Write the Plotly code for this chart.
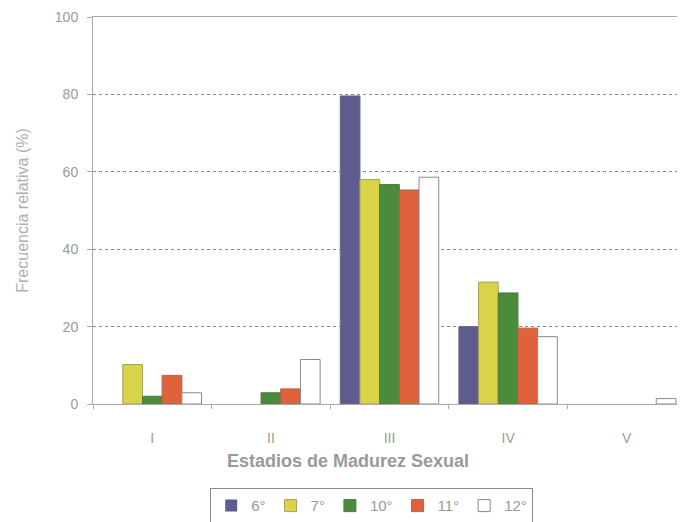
import plotly.graph_objects as go

categories = ["I", "II", "III", "IV", "V"]
series_names = ["6°", "7°", "10°", "11°", "12°"]
v6 = [0, 0, 79.6, 20.0, 0]
v7 = [10.2, 0, 58.0, 31.5, 0]
v10 = [2.0, 2.9, 56.7, 28.7, 0]
v11 = [7.4, 3.9, 55.3, 19.6, 0]
v12 = [2.9, 11.5, 58.6, 17.4, 1.4]
y_ticks = [0, 20, 40, 60, 80, 100]

series_values = [v6, v7, v10, v11, v12]
fills = ["#5e5c8e", "#d9d348", "#4a8c3c", "#e0623c", "#ffffff"]
lines = ["#6a6a80", "#a8a060", "#4a7a44", "#b06048", "#8a8a8a"]

fig = go.Figure()
for name, vals, fc, lc in zip(series_names, series_values, fills, lines):
    fig.add_trace(go.Bar(
        x=categories, y=vals, name=name,
        marker=dict(color=fc,
                    line=dict(color=lc, width=[1 if v > 0 else 0 for v in vals])),
    ))

grey = "#9a9a9a"
fig.update_layout(
    width=685, height=522,
    margin=dict(l=85, r=7, t=9, b=126),
    paper_bgcolor="white", plot_bgcolor="white",
    barmode="group", bargap=0.17, bargroupgap=0,
    font=dict(family="Liberation Sans, Arial, sans-serif", color=grey, size=14),
    showlegend=True,
    legend=dict(
        orientation="h", x=0.47, xanchor="center", y=-0.218, yanchor="top",
        bordercolor="#8a8a8a", borderwidth=1, bgcolor="white",
        font=dict(size=15, color=grey),
        itemwidth=30,
    ),
    xaxis=dict(
        tickson="boundaries", ticks="outside", ticklen=4, tickcolor="#aaaaaa",
        showline=True, linecolor="#aaaaaa", linewidth=1, mirror=True,
        ticklabelstandoff=21, tickfont=dict(size=14, color=grey),
        showgrid=False, automargin=False,
    ),
    yaxis=dict(
        range=[0, 100], tickvals=y_ticks, ticks="outside", ticklen=5,
        tickcolor="#aaaaaa",
        showline=True, linecolor="#aaaaaa", linewidth=1, mirror=True,
        showgrid=True, gridcolor="#8a8a8a", griddash="dot", gridwidth=1,
        zeroline=False, automargin=False, ticklabelstandoff=6,
        tickfont=dict(size=14, color=grey),
        title=dict(text="Frecuencia relativa (%)", standoff=22,
                   font=dict(size=16, color="#b0b0b0")),
    ),
    annotations=[dict(
        text="<b>Estadios de Madurez Sexual</b>",
        xref="paper", yref="paper", x=0.43, y=-0.148,
        xanchor="center", yanchor="middle", showarrow=False,
        font=dict(size=18, color=grey),
    )],
)
fig.write_html("out.html")
